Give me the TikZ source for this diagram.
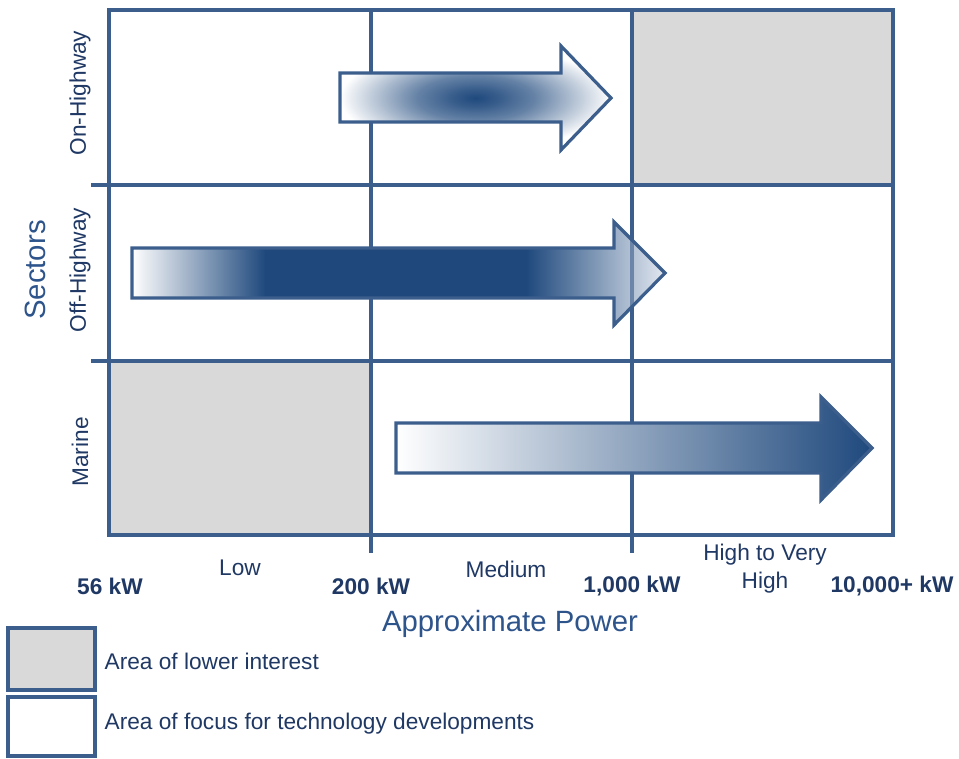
\documentclass[tikz,border=0pt]{standalone}
\usepackage{fontspec}
\setmainfont{Liberation Sans}
\definecolor{gridblue}{RGB}{59,94,140}
\definecolor{darkblue}{RGB}{31,73,125}
\definecolor{textblue}{RGB}{31,56,100}
\definecolor{titleblue}{RGB}{46,84,140}
\definecolor{paleblue}{RGB}{226,232,240}
\definecolor{cellgray}{RGB}{217,217,217}
\pgfdeclareradialshading{onhwy}{\pgfpoint{0bp}{0bp}}{color(0bp)=(darkblue); color(4bp)=(darkblue!90); color(11bp)=(darkblue!68); color(25bp)=(white); color(50bp)=(white)}
\pgfdeclarehorizontalshading{offhwy}{100bp}{color(0bp)=(white); color(25bp)=(white); color(37.5bp)=(darkblue); color(62bp)=(darkblue); color(75bp)=(paleblue); color(100bp)=(paleblue)}

\begin{document}
\begin{tikzpicture}[x=0.75pt, y=-0.75pt,
    gridline/.style={draw=gridblue, line width=2.4pt},
    rowlabel/.style={rotate=90, text=textblue, font=\fontsize{17}{20}\selectfont},
    bandlabel/.style={text=textblue, align=center, font=\fontsize{17}{21}\selectfont},
    powerlabel/.style={text=textblue, font=\bfseries\fontsize{17}{20}\selectfont},
    axislabel/.style={text=titleblue, font=\fontsize{22}{26}\selectfont}]
    \useasboundingbox (0,0) rectangle (959,758);

    \fill[cellgray] (632,10) rectangle (893,185);
    \fill[cellgray] (109,361) rectangle (371,535);
    \draw[gridline] (109,10) rectangle (893,535);
    \foreach \y in {185, 361}
        \draw[gridline] (91,\y) -- (893,\y);
    \foreach \x in {371, 632}
        \draw[gridline] (\x,10) -- (\x,553);

    \draw[gridline, shading=onhwy] (340,73) -- (561,73) -- (561,46) -- (611,98) -- (561,150) -- (561,122) -- (340,122) -- cycle;
    \draw[gridline, shading=offhwy] (132,248) -- (614,248) -- (614,222) -- (665,273) -- (614,325) -- (614,298) -- (132,298) -- cycle;
    \draw[gridline, opacity=.6] (632,240) -- (632,307);
    \draw[gridline, left color=white, right color=darkblue] (396,423) -- (821,423) -- (821,397) -- (872,448) -- (821,500) -- (821,473) -- (396,473) -- cycle;

    \node[axislabel, rotate=90] (sectors) at (35,270) {Sectors};
    \node[rowlabel] (onhwy) at (80,93) {On-Highway};
    \node[rowlabel] (offhwy) at (80,270) {Off-Highway};
    \node[rowlabel] (marine) at (80,452) {Marine};

    \node[powerlabel] (p56) at (110,586) {56 kW};
    \node[powerlabel] (p200) at (371,586) {200 kW};
    \node[powerlabel] (p1000) at (632,586) {1,000 kW};
    \node[powerlabel] (p10000) at (892,586) {10,000+ kW};
    \node[bandlabel] (low) at (240,568) {Low};
    \node[bandlabel] (medium) at (506,569) {Medium};
    \node[bandlabel] (high) at (765,569) {High to Very\\High};
    \node[axislabel] (power) at (510,624) {Approximate Power};

    \draw[gridline, fill=cellgray] (8,628) rectangle (95,690);
    \draw[gridline] (8,697) rectangle (95,756);
    \node[bandlabel, anchor=west] (lowint) at (100,661) {Area of lower interest};
    \node[bandlabel, anchor=west] (focus) at (100,724) {Area of focus for technology developments};
\end{tikzpicture}
\end{document}
